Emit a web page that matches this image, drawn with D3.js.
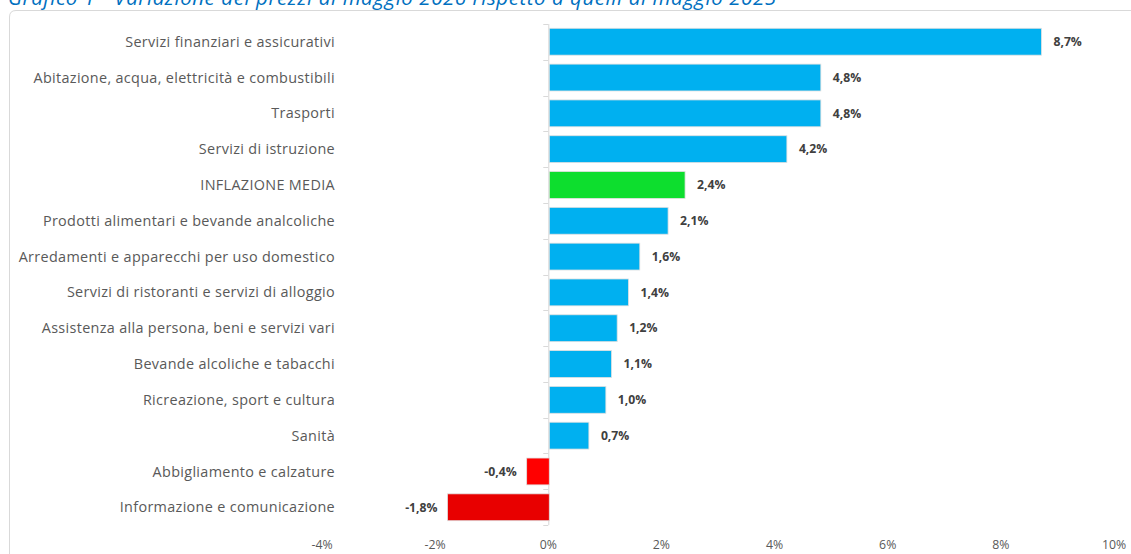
<!DOCTYPE html>
<html><head><meta charset="utf-8">
<script src="https://cdn.jsdelivr.net/npm/d3@7"></script>
<style>body{margin:0;background:#fff;}svg{display:block;font-family:"Open Sans",sans-serif;}</style>
</head><body><svg id="c" width="1131" height="554"></svg>
<script>
const categories = ["Servizi finanziari e assicurativi","Abitazione, acqua, elettricità e combustibili","Trasporti","Servizi di istruzione","INFLAZIONE MEDIA","Prodotti alimentari e bevande analcoliche","Arredamenti e apparecchi per uso domestico","Servizi di ristoranti e servizi di alloggio","Assistenza alla persona, beni e servizi vari","Bevande alcoliche e tabacchi","Ricreazione, sport e cultura","Sanità","Abbigliamento e calzature","Informazione e comunicazione"];
const values = [8.7,4.8,4.8,4.2,2.4,2.1,1.6,1.4,1.2,1.1,1.0,0.7,-0.4,-1.8];
const barColors = ["#00B0F0","#00B0F0","#00B0F0","#00B0F0","#0DDE2E","#00B0F0","#00B0F0","#00B0F0","#00B0F0","#00B0F0","#00B0F0","#00B0F0","#FF0000","#E80000"];
const xTicks = [-4,-2,0,2,4,6,8,10];
const title = "Grafico 1 - Variazione dei prezzi di maggio 2026 rispetto a quelli di maggio 2025";

const svg = d3.select("#c");
svg.append("path").attr("d","M1131,10.5 L16,10.5 Q9.5,10.5 9.5,17 L9.5,560").attr("fill","none").attr("stroke","#D9D9D9").attr("stroke-width",1);
svg.append("text").attr("x",8).attr("y",5).attr("font-size",20.5).attr("letter-spacing",0.55).attr("font-style","italic").attr("fill","#0070C0").text(title);

const x = d3.scaleLinear().domain([-4,10]).range([322,1114]);
const y = d3.scaleBand().domain(categories).range([24,525]).paddingInner(0.25).paddingOuter(0.12);

const x0 = x(0);
svg.append("line").attr("x1",x0+0.5).attr("x2",x0+0.5).attr("y1",24).attr("y2",525).attr("stroke","#D9D9D9");
const bounds = d3.range(categories.length+1).map(i=>24 + (525-24)/categories.length*i);
svg.selectAll(".tk").data(bounds).join("line").attr("x1",x0-5).attr("x2",x0).attr("y1",d=>Math.round(d)+0.5).attr("y2",d=>Math.round(d)+0.5).attr("stroke","#D9D9D9");

svg.selectAll(".bar").data(values).join("rect")
  .attr("x",d=>x(Math.min(0,d))+1).attr("width",d=>Math.abs(x(d)-x(0)))
  .attr("y",(d,i)=>y(categories[i])).attr("height",y.bandwidth())
  .attr("fill",(d,i)=>barColors[i]).attr("stroke","#E0E0E0").attr("stroke-width",0.8);

svg.selectAll(".cat").data(categories).join("text")
  .attr("x",335).attr("y",d=>y(d)+y.bandwidth()/2).attr("dy","0.35em")
  .attr("text-anchor","end").attr("font-size",14.4).attr("letter-spacing",0.33).attr("fill","#595959").text(d=>d);

const fmt = v => v.toFixed(1).replace(".",",")+"%";
svg.selectAll(".val").data(values).join("text")
  .attr("x",d=>d>=0 ? x(d)+13 : x(d)-9)
  .attr("y",(d,i)=>y(categories[i])+y.bandwidth()/2).attr("dy","0.35em")
  .attr("text-anchor",d=>d>=0?"start":"end")
  .attr("font-size",12.2).attr("font-weight","bold").attr("fill","#404040").text(fmt);

svg.selectAll(".xl").data(xTicks).join("text")
  .attr("x",d=>x(d)).attr("y",549).attr("text-anchor","middle")
  .attr("font-size",12.3).attr("fill","#595959").text(d=>d+"%");
</script></body></html>
